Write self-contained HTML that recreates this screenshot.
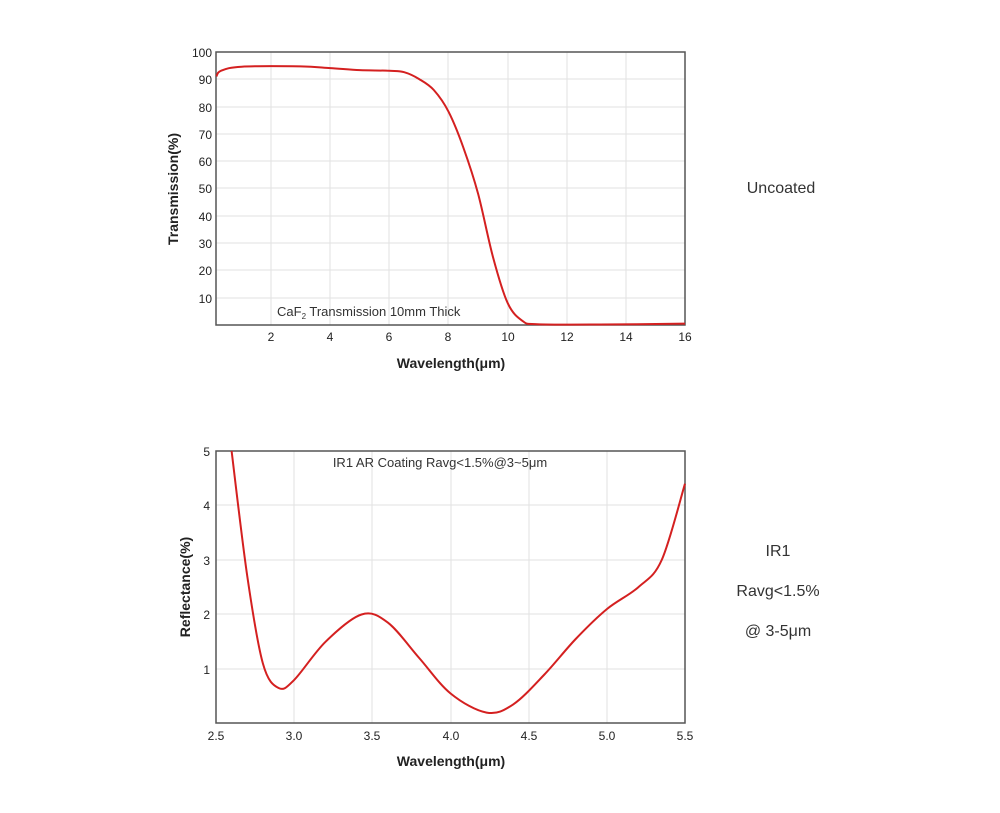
<!DOCTYPE html>
<html><head><meta charset="utf-8"><style>
body{margin:0;background:#fff;}
svg text{font-family:"Liberation Sans",Arial,sans-serif;}
</style></head><body>
<svg width="1000" height="808" xmlns="http://www.w3.org/2000/svg">
<g stroke="#e2e2e2" stroke-width="1">
<line x1="271" y1="52" x2="271" y2="325"/><line x1="330" y1="52" x2="330" y2="325"/><line x1="389" y1="52" x2="389" y2="325"/><line x1="448" y1="52" x2="448" y2="325"/><line x1="508" y1="52" x2="508" y2="325"/><line x1="567" y1="52" x2="567" y2="325"/><line x1="626" y1="52" x2="626" y2="325"/>
<line x1="216" y1="79" x2="685" y2="79"/><line x1="216" y1="107" x2="685" y2="107"/><line x1="216" y1="134" x2="685" y2="134"/><line x1="216" y1="161" x2="685" y2="161"/><line x1="216" y1="188" x2="685" y2="188"/><line x1="216" y1="216" x2="685" y2="216"/><line x1="216" y1="243" x2="685" y2="243"/><line x1="216" y1="270" x2="685" y2="270"/><line x1="216" y1="298" x2="685" y2="298"/>
<line x1="294" y1="451" x2="294" y2="723"/><line x1="372" y1="451" x2="372" y2="723"/><line x1="451" y1="451" x2="451" y2="723"/><line x1="529" y1="451" x2="529" y2="723"/><line x1="607" y1="451" x2="607" y2="723"/>
<line x1="216" y1="505" x2="685" y2="505"/><line x1="216" y1="560" x2="685" y2="560"/><line x1="216" y1="614" x2="685" y2="614"/><line x1="216" y1="669" x2="685" y2="669"/>
</g>
<rect x="216" y="52" width="469" height="273" fill="none" stroke="#555" stroke-width="1.5"/>
<rect x="216" y="451" width="469" height="272" fill="none" stroke="#555" stroke-width="1.5"/>
<path id="c1" fill="none" stroke="#d42020" stroke-width="2" stroke-linejoin="round"/>
<path id="c2" fill="none" stroke="#d42020" stroke-width="2" stroke-linejoin="round"/>
<g font-size="12" fill="#222" text-anchor="end">
<text x="212" y="57">100</text><text x="212" y="84">90</text><text x="212" y="112">80</text><text x="212" y="139">70</text><text x="212" y="166">60</text><text x="212" y="193">50</text><text x="212" y="221">40</text><text x="212" y="248">30</text><text x="212" y="275">20</text><text x="212" y="303">10</text>
<text x="210" y="456">5</text><text x="210" y="510">4</text><text x="210" y="565">3</text><text x="210" y="619">2</text><text x="210" y="674">1</text>
</g>
<g font-size="12" fill="#222" text-anchor="middle">
<text x="271" y="341">2</text><text x="330" y="341">4</text><text x="389" y="341">6</text><text x="448" y="341">8</text><text x="508" y="341">10</text><text x="567" y="341">12</text><text x="626" y="341">14</text><text x="685" y="341">16</text>
<text x="216" y="740">2.5</text><text x="294" y="740">3.0</text><text x="372" y="740">3.5</text><text x="451" y="740">4.0</text><text x="529" y="740">4.5</text><text x="607" y="740">5.0</text><text x="685" y="740">5.5</text>
</g>
<g font-size="14" font-weight="bold" fill="#222" text-anchor="middle">
<text x="451" y="368">Wavelength(μm)</text>
<text x="451" y="766">Wavelength(μm)</text>
<text transform="translate(178,189) rotate(-90)">Transmission(%)</text>
<text transform="translate(190,587) rotate(-90)">Reflectance(%)</text>
</g>
<text x="277" y="316" font-size="13" fill="#333">CaF<tspan font-size="8" dy="3">2</tspan><tspan dy="-3"> Transmission 10mm Thick</tspan></text>
<text x="440" y="467" font-size="13" fill="#333" text-anchor="middle">IR1 AR Coating Ravg&lt;1.5%@3~5μm</text>
<g font-size="16" fill="#333" text-anchor="middle">
<text x="781" y="193">Uncoated</text>
<text x="778" y="556">IR1</text>
<text x="778" y="596">Ravg&lt;1.5%</text>
<text x="778" y="636">@ 3-5μm</text>
</g>
</svg>
<script>
function cr(p){var d="M"+p[0][0]+","+p[0][1];for(var i=0;i<p.length-1;i++){var a=p[i-1]||p[i],b=p[i],c=p[i+1],e=p[i+2]||c;
d+=" C"+(b[0]+(c[0]-a[0])/6).toFixed(1)+","+(b[1]+(c[1]-a[1])/6).toFixed(1)+" "+(c[0]-(e[0]-b[0])/6).toFixed(1)+","+(c[1]-(e[1]-b[1])/6).toFixed(1)+" "+c[0]+","+c[1];}return d;}
var p1=[[216.4,76.3],[220.9,70.8],[241.6,66.7],[300.7,66.4],[330.3,68.1],[359.9,70.1],[389.4,70.8],[404.2,72.2],[419,79],[433.8,90],[448.6,111.8],[463.3,147.4],[478.1,193.8],[492.9,256.7],[507.7,303.1],[522.5,320.9],[537.3,324.2],[600,324.5],[685,323.6]];
var p2=[[231.6,451],[247.3,576.4],[262.9,663.5],[278.6,688],[294.2,679.9],[325.5,641.8],[361.5,614.5],[388,622.7],[419.3,658.1],[450.6,693.5],[486.6,712.6],[513.2,704.4],[544.4,674.5],[575.7,639],[607,609],[638.3,587.2],[661.7,560],[685,483.7]];
document.getElementById("c1").setAttribute("d",cr(p1));
document.getElementById("c2").setAttribute("d",cr(p2));
</script>
</body></html>
